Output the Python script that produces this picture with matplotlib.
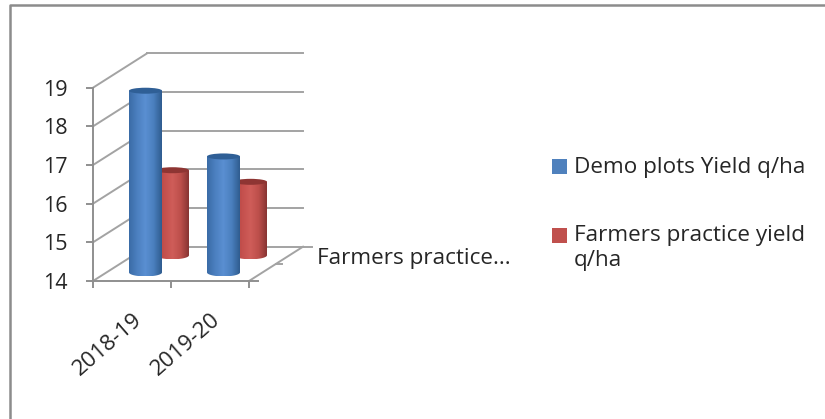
import numpy as np
import matplotlib
matplotlib.use('Agg')
import matplotlib.pyplot as plt
from matplotlib.colors import LinearSegmentedColormap
from matplotlib.lines import Line2D
from matplotlib.patches import Ellipse, PathPatch, Rectangle
from matplotlib.path import Path

plt.rcParams['font.family'] = ['Open Sans', 'DejaVu Sans']

years = ['2018-19', '2019-20']
demo_yield = [18.7, 17.0]
farmers_yield = [16.2, 15.9]
series_names = ['Demo plots Yield q/ha', 'Farmers practice yield\nq/ha']
series_colors = ['#4f81bd', '#c0504d']
depth_label = 'Farmers practice...'
y_ticks = [14, 15, 16, 17, 18, 19]

# oblique offset of the back wall, in data units per unit of depth
DX = 54 / 78
DY = 34.3 / 38.66
BAR_W = 33 / 78
RX = BAR_W / 2
RY_TOP = 3.0 / 38.66
RY_BASE = 4.0 / 38.66
GRID = '#a3a3a3'
EDGE = '#8f8f8f'
TEXT = '#262626'
W, H = 825, 419


def proj(x, y, d):
    return x + d * DX, y + d * DY


def cylinder(ax, x, val, depth, shades, top_col, z):
    cx, y0 = proj(x, 14, depth)
    _, y1 = proj(x, val, depth)
    # body outline: straight sides, rounded bottom, top covered by the cap
    t = np.linspace(np.pi, 2 * np.pi, 40)
    xs = cx + RX * np.cos(t)
    ys = y0 + RY_BASE * np.sin(t)
    verts = list(zip(xs, ys)) + [(cx + RX, y1), (cx - RX, y1), (cx - RX, y0)]
    body = PathPatch(Path(verts), fc='none', ec='none', zorder=z, clip_on=False)
    ax.add_patch(body)
    cmap = LinearSegmentedColormap.from_list('cyl', shades)
    grad = np.linspace(0, 1, 128).reshape(1, -1)
    im = ax.imshow(grad, cmap=cmap, extent=(cx - RX, cx + RX, y0 - RY_BASE, y1),
                   aspect='auto', zorder=z, interpolation='bilinear')
    im.set_clip_box(fig.bbox)
    im.set_clip_path(body)
    ax.add_patch(Ellipse((cx, y1), 2 * RX, 2 * RY_TOP, fc=top_col, ec='none',
                         zorder=z + 0.1, clip_on=False))


fig = plt.figure(figsize=(8.25, 4.19), dpi=100)

# outer frame, only the top and left edges fall inside the canvas
fig.add_artist(Line2D([10 / W, 10 / W, 1], [0, 1 - 5 / H, 1 - 5 / H],
                      color='#8c8c8c', lw=1.8))

ax = fig.add_axes([93 / W, (H - 281) / H, 156 / W, 193.3 / H])

# walls and floor
for v in y_ticks:
    bx, by = proj(0, v, 1)
    ax.plot([0, bx], [v, by], color=GRID, lw=1.4, clip_on=False, zorder=1)
    ex, _ = proj(2, v, 1)
    ax.plot([bx, ex + (0.12 if v == 14 else 0)], [by, by], color=GRID, lw=1.4,
            clip_on=False, zorder=1)
fx, fy = proj(2, 14, 1)
ax.plot([2, fx], [14, fy], color=GRID, lw=1.4, clip_on=False, zorder=1)
# depth axis tick
mx, my = proj(2, 14, 0.5)
ax.plot([mx, mx + 0.08], [my, my], color=GRID, lw=1.4, clip_on=False, zorder=1)
ax.plot([2, 2.11], [14, 14], color=EDGE, lw=1.4, clip_on=False, zorder=1)

blue = ['#3a6ba6', '#4c80c0', '#5a8fd2', '#4a7fbe', '#2f5c8f']
red = ['#b04543', '#c4504d', '#cf5d59', '#bd4f4b', '#873432']
for i in range(len(years)):
    cylinder(ax, i + 0.5, farmers_yield[i], 0.75, red, '#8e3533', 3)
for i in range(len(years)):
    cylinder(ax, i + 0.5, demo_yield[i], 0.25, blue, '#2f5f96', 5)

ax.set_xlim(0, 2)
ax.set_ylim(14, 19)
ax.patch.set_visible(False)
for s in ['top', 'right']:
    ax.spines[s].set_visible(False)
for s in ['left', 'bottom']:
    ax.spines[s].set_color(EDGE)
    ax.spines[s].set_linewidth(1.4)

ax.set_yticks(y_ticks)
ax.set_xticks([0, 1, 2])
ax.set_xticklabels([])
ax.set_xticks([0.5, 1.5], minor=True)
ax.set_xticklabels(years, minor=True, rotation=41, ha='right', va='top',
                   rotation_mode='anchor', fontsize=16, color=TEXT)
ax.tick_params(axis='both', which='major', length=5, width=1.4, color=EDGE)
ax.tick_params(axis='y', labelsize=15.5, labelcolor=TEXT, pad=13.5)
ax.tick_params(axis='x', which='minor', length=0, pad=20)
for lab in ax.get_xticklabels(minor=True):
    lab.set_x(lab.get_position()[0] - 0.03)

ax.text(mx + 0.526, my + 0.15, depth_label, fontsize=16.2, color=TEXT,
        va='center', ha='left', clip_on=False)

# legend entries, swatch lines up with the first text line
for name, col, top, off in zip(series_names, series_colors, [159, 228], [2, 3]):
    fig.add_artist(Rectangle((552 / W, 1 - (top + 15) / H), 15 / W, 15 / H, fc=col, ec='none'))
    fig.text(574 / W, 1 - (top - off) / H, name, fontsize=16.2, color=TEXT, va='top', ha='left',
             linespacing=1.25)

fig.savefig('out.png', dpi=100)
